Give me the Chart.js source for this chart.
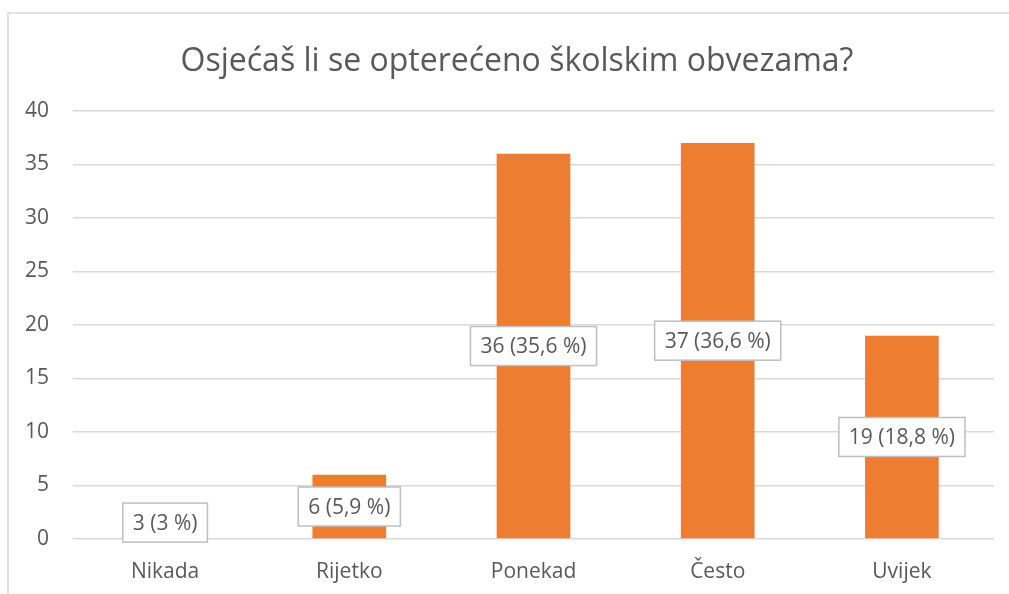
<!DOCTYPE html>
<html>
<head>
<meta charset="utf-8">
<script src="https://cdn.jsdelivr.net/npm/chart.js@4"></script>
<style>
    body { margin: 0; background: #fff; }
    #wrap { width: 1009px; height: 594px; position: relative; }
</style>
</head>
<body>
<div id="wrap"><canvas id="opterecenjeChart"></canvas></div>
<script>
// Podaci s grafikona
const categories = ['Nikada', 'Rijetko', 'Ponekad', 'Često', 'Uvijek'];
const counts = [3, 6, 36, 37, 19];
const percents = [3, 5.9, 35.6, 36.6, 18.8];
const yTicks = [0, 5, 10, 15, 20, 25, 30, 35, 40];

const textColor = '#595959';
const gridColor = '#D9D9D9';

// Okvir oko cijelog grafikona
const framePlugin = {
    id: 'frame',
    beforeDraw(chart) {
        const ctx = chart.ctx;
        ctx.save();
        ctx.strokeStyle = gridColor;
        ctx.lineWidth = 1.5;
        ctx.strokeRect(8, 13, 1100, 700);
        ctx.restore();
    }
};

// Naslov malo pomaknut udesno, kao u originalu
const titleShiftPlugin = {
    id: 'titleShift',
    afterLayout(chart) {
        if (chart.titleBlock) {
            chart.titleBlock.left += 40;
        }
    }
};

// Oznake vrijednosti u kućicama na sredini stupca
const boxLabelsPlugin = {
    id: 'boxLabels',
    afterDatasetsDraw(chart) {
        const ctx = chart.ctx;
        const meta = chart.getDatasetMeta(0);
        ctx.save();
        ctx.font = '21px "Open Sans"';
        ctx.textAlign = 'center';
        ctx.textBaseline = 'middle';
        meta.data.forEach((bar, i) => {
            const text = counts[i] + ' (' + String(percents[i]).replace('.', ',') + ' %)';
            const w = ctx.measureText(text).width + 20;
            const h = 39;
            const cx = bar.x;
            const cy = (bar.y + bar.base) / 2;
            ctx.fillStyle = '#fff';
            ctx.fillRect(cx - w / 2, cy - h / 2, w, h);
            ctx.strokeStyle = '#BFBFBF';
            ctx.lineWidth = 1.5;
            ctx.strokeRect(cx - w / 2, cy - h / 2, w, h);
            ctx.fillStyle = textColor;
            ctx.fillText(text, cx, cy + 1);
        });
        ctx.restore();
    }
};

const ctx = document.getElementById('opterecenjeChart').getContext('2d');
const chart = new Chart(ctx, {
    type: 'bar',
    data: {
        labels: categories,
        datasets: [{
            data: counts,
            backgroundColor: '#ED7D31',
            borderWidth: 0,
            barPercentage: 0.4,
            categoryPercentage: 1
        }]
    },
    options: {
        responsive: true,
        maintainAspectRatio: false,
        animation: false,
        devicePixelRatio: 1,
        layout: {
            padding: { top: 0, right: 15, bottom: 10, left: 0 }
        },
        plugins: {
            legend: { display: false },
            tooltip: { enabled: false },
            title: {
                display: true,
                text: 'Osjećaš li se opterećeno školskim obvezama?',
                color: textColor,
                font: { family: 'Open Sans', size: 32, weight: 'normal', lineHeight: 1.2 },
                padding: { top: 43, bottom: 29.6 }
            }
        },
        scales: {
            x: {
                afterFit(scale) {
                    scale.height = 45;
                },
                grid: { display: false, drawTicks: false },
                border: { display: false },
                ticks: {
                    color: textColor,
                    font: { family: 'Open Sans', size: 21 },
                    padding: 20
                }
            },
            y: {
                min: 0,
                max: 40,
                afterBuildTicks(scale) {
                    scale.ticks = yTicks.map(v => ({ value: v }));
                },
                afterFit(scale) {
                    scale.width = 73;
                },
                grid: { color: gridColor, lineWidth: 1.5, drawTicks: false },
                border: { display: false },
                ticks: {
                    color: textColor,
                    font: { family: 'Open Sans', size: 21 },
                    padding: 24
                }
            }
        }
    },
    plugins: [framePlugin, titleShiftPlugin, boxLabelsPlugin]
});
</script>
</body>
</html>
